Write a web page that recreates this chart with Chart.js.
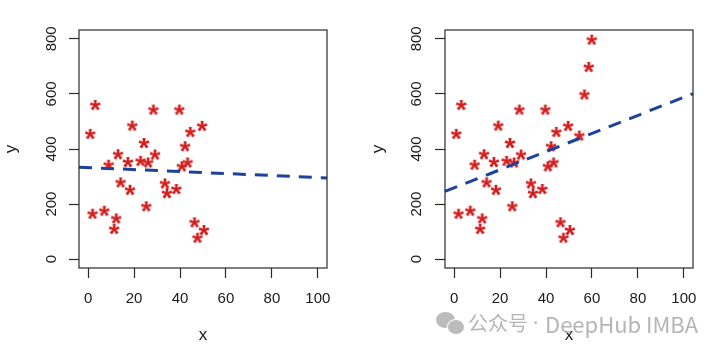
<!DOCTYPE html>
<html>
<head>
<meta charset="utf-8">
<script src="https://cdn.jsdelivr.net/npm/chart.js@4"></script>
<style>
  body { margin: 0; background: #fff; }
  #wrap { position: relative; width: 720px; height: 352px; overflow: hidden; }
  canvas { position: absolute; top: 0; }
  #leftChart { left: 0; }
  #rightChart { left: 360px; }
  .mark { position: absolute; top: 309px; color: #b5b5b5; font-family: "Noto Sans CJK SC", "Noto Sans", sans-serif; line-height: 28px; white-space: nowrap; }
  .bub { position: absolute; background: #bcbcbc; border-radius: 50%; }
</style>
</head>
<body>
<div id="wrap">
  <canvas id="leftChart" width="360" height="352"></canvas>
  <canvas id="rightChart" width="360" height="352"></canvas>
  <div class="bub" style="left:436px;top:312px;width:19px;height:16px;"></div>
  <div class="bub" style="left:447px;top:319px;width:16px;height:14px;border:1.5px solid #fff;"></div>
  <div class="mark" style="left:468px;font-size:20px;">公众号</div>
  <div class="mark" style="left:533px;font-size:20px;font-family:'Noto Sans',sans-serif;">·</div>
  <div class="mark" style="left:545px;font-size:22px;">DeepHub IMBA</div>
</div>
<script>
// points (left panel)
const ptX = [0.9, 3.1, 1.9, 7.0, 8.9, 12.2, 11.3, 13.0, 14.1, 17.3, 18.2, 19.2, 22.8, 24.3, 26.1,
             25.3, 28.4, 29.1, 33.4, 34.3, 38.4, 39.7, 40.8, 42.2, 43.3, 44.5, 49.6, 46.3, 47.6, 50.4];
const ptY = [455, 560, 165, 176, 343, 148, 110, 381, 279, 353, 252, 485, 357, 422, 351,
             192, 543, 380, 275, 240, 255, 543, 337, 410, 351, 462, 484, 134, 78, 106];
// extra points only in the right panel
const extraX = [54.5, 56.7, 58.6, 59.9];
const extraY = [449, 598, 698, 797];

// dashed fit lines, end points at the plot edges
const fitX = [-4, 104];
const fitLeftY = [334, 295];
const fitRightY = [246, 601];

const xTicks = [0, 20, 40, 60, 80, 100];
const yTicks = [0, 200, 400, 600, 800];

const starColor = '#d41e1e';
const lineColor = '#1c429e';

Chart.defaults.font.family = '"Liberation Sans", Arial, sans-serif';
Chart.defaults.color = '#222';

// asterisk marker drawn from the "*" glyph
function makeStar() {
    const c = document.createElement('canvas');
    c.width = 16; c.height = 16;
    const g = c.getContext('2d');
    g.fillStyle = starColor;
    g.font = 'bold 28px "Liberation Sans"';
    g.textAlign = 'center';
    const m = g.measureText('*');
    const y = 8 + (m.actualBoundingBoxAscent - m.actualBoundingBoxDescent) / 2;
    g.fillText('*', 8, y);
    return c;
}
const star = makeStar();

function toPoints(xs, ys) {
    return xs.map((x, i) => ({ x: x, y: ys[i] }));
}

// box around the plot region
const boxPlugin = {
    id: 'box',
    afterDraw(chart) {
        const a = chart.chartArea;
        const ctx = chart.ctx;
        ctx.save();
        ctx.strokeStyle = '#2a2a2a';
        ctx.lineWidth = 1.2;
        ctx.strokeRect(a.left, a.top, a.right - a.left, a.bottom - a.top);
        ctx.restore();
    }
};

function makeChart(id, points, fitY, opt) {
    const ctx = document.getElementById(id).getContext('2d');
    return new Chart(ctx, {
        type: 'scatter',
        data: {
            datasets: [{
                type: 'line',
                data: toPoints(fitX, fitY),
                borderColor: lineColor,
                borderWidth: 3,
                borderDash: [13, 9],
                pointRadius: 0,
                fill: false,
            }, {
                data: points,
                pointStyle: star,
                pointRadius: 6,
            }],
        },
        options: {
            responsive: false,
            animation: false,
            clip: false,
            layout: { padding: { left: 0, top: 30, right: opt.right, bottom: 0 } },
            plugins: { legend: { display: false }, tooltip: { enabled: false } },
            scales: {
                x: {
                    type: 'linear',
                    min: -4,
                    max: 104,
                    afterBuildTicks: s => { s.ticks = xTicks.map(v => ({ value: v })); },
                    afterFit: s => { s.height = 84; },
                    grid: { drawOnChartArea: false, tickLength: 10, color: '#2a2a2a', tickWidth: 1.2 },
                    border: { display: false },
                    ticks: { font: { size: 15 }, padding: 12, color: '#1a1a1a' },
                    title: { display: true, text: 'x', font: { size: 17 }, padding: { top: 0, bottom: 6 }, color: '#1a1a1a' },
                },
                y: {
                    type: 'linear',
                    min: -32,
                    max: 832,
                    afterBuildTicks: s => { s.ticks = yTicks.map(v => ({ value: v })); },
                    afterFit: s => { s.width = opt.yWidth; },
                    grid: { drawOnChartArea: false, tickLength: 10, color: '#2a2a2a', tickWidth: 1.2 },
                    border: { display: false },
                    ticks: { font: { size: 15 }, padding: opt.yPad, minRotation: 90, maxRotation: 90, crossAlign: 'center', color: '#1a1a1a' },
                    title: { display: true, text: 'y', font: { size: 17 }, padding: { top: opt.titlePad, bottom: 0 }, color: '#1a1a1a' },
                },
            },
        },
        plugins: [boxPlugin],
    });
}

makeChart('leftChart', toPoints(ptX, ptY), fitLeftY, { right: 33, yWidth: 79, yPad: 5, titlePad: 1 });
makeChart('rightChart', toPoints(ptX.concat(extraX), ptY.concat(extraY)), fitRightY, { right: 27, yWidth: 85, yPad: 6, titlePad: 8 });
</script>
</body>
</html>
